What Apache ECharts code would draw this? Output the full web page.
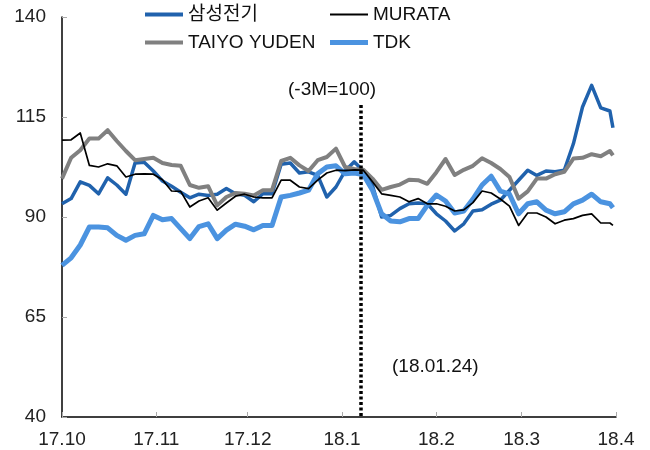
<!DOCTYPE html>
<html>
<head>
<meta charset="utf-8">
<script src="https://cdn.jsdelivr.net/npm/echarts@6/dist/echarts.min.js"></script>
<style>
html,body{margin:0;padding:0;background:#fff;}
#chart{width:650px;height:450px;}
</style>
</head>
<body>
<div id="chart"></div>
<script>
const dates = ['2017-10-01','2017-10-04','2017-10-07','2017-10-10','2017-10-13','2017-10-16','2017-10-19','2017-10-22','2017-10-25','2017-10-28',
'2017-10-31','2017-11-03','2017-11-06','2017-11-09','2017-11-12','2017-11-15','2017-11-18','2017-11-21','2017-11-24','2017-11-27',
'2017-11-30','2017-12-03','2017-12-06','2017-12-09','2017-12-12','2017-12-15','2017-12-18','2017-12-21','2017-12-24','2017-12-27',
'2017-12-30','2018-01-02','2018-01-05','2018-01-08','2018-01-11','2018-01-14','2018-01-17','2018-01-20','2018-01-23','2018-01-26',
'2018-01-29','2018-02-01','2018-02-04','2018-02-07','2018-02-10','2018-02-13','2018-02-16','2018-02-19','2018-02-22','2018-02-25',
'2018-02-28','2018-03-03','2018-03-06','2018-03-09','2018-03-12','2018-03-15','2018-03-18','2018-03-21','2018-03-24','2018-03-27',
'2018-03-30','2018-03-31'];

const samsung = [93.3,94.6,98.8,97.9,95.8,99.8,98,95.7,103.5,103.7,
101.5,99,97.7,96.2,94.8,95.7,95.4,95.7,97.1,95.8,
95.4,93.8,95.8,95.8,103.2,103.5,101,101.3,100.4,95,
97.5,101.5,103.8,101.5,97.9,90,90.4,92.1,93.3,93.5,
93.3,90.8,89,86.5,88.3,91.5,91.8,93.2,94.2,96.7,
99.2,101.7,100.4,101.5,101.3,101.7,108.3,117.5,122.9,117.3,
116.5,112.3];

const murata = [109.2,109.3,111,102.9,102.5,103.3,102.8,100,100.7,100.8,
100.7,99.3,96.5,96.4,92.5,94,94.8,91.7,93.5,95.2,
95.7,95,94.8,94.8,99.2,99.2,97.5,97.1,99.2,101,
101.7,101.6,101.8,101.7,98.8,95.8,95.4,95,93.8,94.6,
93.3,93.3,92.7,91.5,91.8,93.6,96.5,96,94.5,92.7,
87.9,91,91,90,88.3,89.2,89.6,90.4,90.8,88.5,
88.5,87.9];

const taiyo = [99.6,104.8,106.7,109.6,109.6,111.7,109,106.5,104.2,104.5,
104.8,103.5,103,102.8,98,97.3,97.7,92.9,95,96,
95.8,95.4,96.7,96.7,104,104.8,102.9,101.5,104.2,105,
107.1,102.5,102,101.8,99.6,96.8,97.5,98.1,99.3,99.2,
98.3,101.2,104.5,100.5,101.8,102.8,104.7,103.5,102,100,
94.6,96.4,99.6,99.6,100.7,101.3,104.6,104.8,105.7,105.2,
106.5,105.4];

const tdk = [77.9,79.8,83,87.5,87.5,87.3,85.4,84.2,85.4,85.8,
90.4,89.3,89.6,87.1,84.6,87.6,88.3,84.6,86.7,88.2,
87.7,86.8,87.9,87.9,95,95.4,96,96.7,100.8,102.5,
102.8,100.8,101,100.6,96.7,90.8,89,88.8,89.6,89.6,
92.9,95.5,94,91,91.5,94.5,98,100.2,96.5,95.7,
90.8,93.3,93.8,91.7,90.8,91.3,93.3,94.2,95.7,93.8,
93.3,92.3];

const monthTicks = ['2017-10-01','2017-11-01','2017-12-01','2018-01-01','2018-02-01','2018-03-01','2018-04-01'];
const refDate = '2018-01-07';
const refTop = 118;
const noteTop = '(-3M=100)';
const noteBottom = '(18.01.24)';

function ts(s){ const p = s.split('-').map(Number); return Date.UTC(p[0], p[1]-1, p[2]); }
function pairs(vals){ return vals.map((v,i)=>[ts(dates[i]), v]); }

const FONT = "'Liberation Sans', Arial, 'Noto Sans CJK KR', sans-serif";
const FS = 19;
const C_SAM = '#2062ad', C_MUR = '#000000', C_TAI = '#808080', C_TDK = '#4b93e0';

const chart = echarts.init(document.getElementById('chart'), null, {renderer:'canvas'});
function leg(name, left, top, h){
  return {data:[{name:name, icon:'rect'}], left:left, top:top, itemWidth:38, itemHeight:h, selectedMode:false,
    padding:0, textStyle:{fontSize:FS, color:'#111', fontFamily:FONT}};
}
const tickVals = monthTicks.map(ts);
chart.setOption({
  animation:false,
  backgroundColor:'#fff',
  textStyle:{fontFamily:FONT},
  grid:{left:62, right:34, top:17, bottom:33, containLabel:false, outerBoundsMode:'none'},
  legend:[leg('삼성전기',145,5,4), leg('MURATA',330,5,2), leg('TAIYO YUDEN',145,33,4), leg('TDK',330,33,5)],
  xAxis:{
    type:'value', min:tickVals[0], max:tickVals[tickVals.length-1],
    splitLine:{show:false},
    axisLine:{show:true, lineStyle:{color:'#000', width:1.5}},
    axisTick:{show:true, inside:true, length:5, lineStyle:{color:'#aaa'}, customValues:tickVals},
    axisLabel:{show:true, margin:13, fontSize:FS, color:'#222', fontFamily:FONT, customValues:tickVals,
      hideOverlap:false, showMinLabel:true, showMaxLabel:true,
      formatter:function(v){ const d=new Date(v); return (d.getUTCFullYear()%100)+'.'+(d.getUTCMonth()+1); }}
  },
  yAxis:{
    type:'value', min:40, max:140, interval:25,
    splitLine:{show:false},
    axisLine:{show:true, lineStyle:{color:'#000', width:1.5}},
    axisTick:{show:true, inside:true, length:5, lineStyle:{color:'#aaa'}},
    axisLabel:{margin:16, fontSize:FS, color:'#222', fontFamily:FONT}
  },
  graphic:[
    {type:'text', left:288, top:80, style:{text:noteTop, fill:'#111', font:FS+"px 'Liberation Sans', Arial, sans-serif"}},
    {type:'text', left:392, top:357, style:{text:noteBottom, fill:'#111', font:FS+"px 'Liberation Sans', Arial, sans-serif"}}
  ],
  series:[
    {name:'삼성전기', type:'line', data:pairs(samsung), showSymbol:false, symbol:'none', color:C_SAM,
      lineStyle:{width:3.5, color:C_SAM, join:'round'}, z:2,
      markLine:{silent:true, symbol:'none', z:20, label:{show:false},
        lineStyle:{type:[3,2.5], width:3.5, color:'#000', cap:'butt'},
        data:[[{coord:[ts(refDate), refTop]},{coord:[ts(refDate), 40]}]]}},
    {name:'MURATA', type:'line', data:pairs(murata), showSymbol:false, symbol:'none', color:C_MUR,
      lineStyle:{width:1.7, color:C_MUR, join:'round'}, z:5},
    {name:'TAIYO YUDEN', type:'line', data:pairs(taiyo), showSymbol:false, symbol:'none', color:C_TAI,
      lineStyle:{width:4, color:C_TAI, join:'round'}, z:3},
    {name:'TDK', type:'line', data:pairs(tdk), showSymbol:false, symbol:'none', color:C_TDK,
      lineStyle:{width:5, color:C_TDK, join:'round'}, z:4}
  ]
});
</script>
</body>
</html>
